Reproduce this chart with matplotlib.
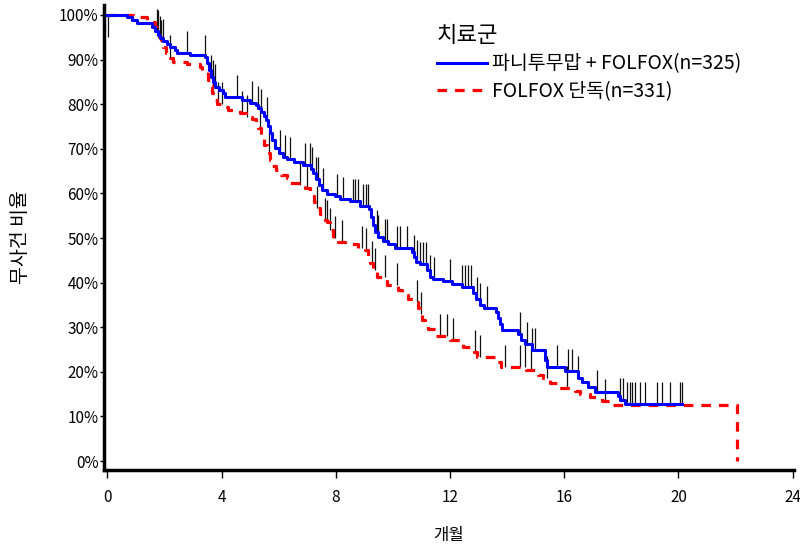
import matplotlib
matplotlib.use('Agg')
import matplotlib.pyplot as plt
import numpy as np

plt.rcParams['font.family'] = ['Noto Sans CJK KR', 'DejaVu Sans']

# Kaplan-Meier steps (months, % event free)
pani_t = [0, 0.68, 0.86, 1.03, 1.56, 1.66, 1.77, 1.84, 1.94, 2.08, 2.19, 2.36, 2.43, 2.89, 3.42, 3.49,
          3.56, 3.63, 3.70, 3.77, 3.91, 4.05, 4.12, 4.71, 4.99, 5.20, 5.27, 5.38, 5.48, 5.55, 5.62, 5.69,
          5.76, 5.87, 6.01, 6.15, 6.29, 6.53, 6.85, 7.13, 7.20, 7.30, 7.41, 7.51, 7.69, 7.97, 8.14, 8.49,
          8.84, 9.16, 9.23, 9.30, 9.37, 9.47, 9.65, 9.83, 10.07, 10.67, 10.73, 10.80, 10.95, 11.19, 11.30,
          11.40, 11.75, 12.07, 12.42, 12.80, 12.91, 13.05, 13.19, 13.61, 13.68, 13.75, 13.82, 14.38, 14.48,
          14.62, 14.87, 15.32, 15.39, 16.02, 16.48, 16.62, 16.83, 17.08, 17.88, 17.95, 18.13, 20.12]
pani_s = [100, 99.6, 98.9, 98.2, 97.3, 96.4, 95.5, 94.8, 94.2, 93.5, 92.8, 92.2, 91.5, 91.0, 90.6, 89.2,
          87.7, 86.1, 85.0, 83.9, 83.2, 82.5, 81.6, 80.9, 80.3, 79.8, 79.1, 78.3, 77.4, 76.5, 75.1, 73.5,
          72.0, 70.2, 69.1, 68.2, 67.7, 67.0, 66.4, 65.5, 64.6, 63.2, 61.9, 60.8, 59.9, 59.4, 58.7, 58.3,
          57.2, 56.5, 54.7, 52.9, 51.3, 50.2, 49.3, 48.7, 47.8, 46.9, 45.7, 44.6, 44.2, 42.8, 41.3,
          40.8, 40.4, 39.7, 39.0, 37.7, 36.3, 35.0, 34.3, 33.4, 32.1, 30.7, 29.4, 28.5, 27.1,
          26.2, 24.9, 22.6, 21.1, 20.2, 18.6, 17.7, 16.6, 15.5, 14.6, 13.7, 12.8, 12.8]

folfox_t = [0, 0.89, 1.14, 1.38, 1.56, 1.66, 1.73, 1.80, 1.87, 1.94, 2.05, 2.19, 2.29, 2.78, 3.24, 3.31,
            3.52, 3.59, 3.66, 3.77, 3.84, 4.12, 4.22, 4.64, 4.85, 5.06, 5.20, 5.27, 5.38, 5.48, 5.59, 5.69,
            5.76, 5.90, 6.08, 6.29, 6.39, 6.74, 6.92, 7.09, 7.16, 7.23, 7.34, 7.44, 7.55, 7.69, 7.79, 7.90,
            8.07, 8.32, 8.77, 9.02, 9.12, 9.19, 9.30, 9.44, 9.79, 10.18, 10.32, 10.53, 10.77, 10.88, 10.95,
            11.02, 11.12, 11.23, 11.51, 12.00, 12.46, 12.84, 12.95, 13.64, 13.78, 14.66, 15.08, 15.25, 15.50,
            15.81, 16.37, 16.55, 16.90, 17.32, 17.67, 22.05, 22.05]
folfox_s = [100, 99.8, 99.6, 98.9, 98.4, 97.3, 96.2, 95.1, 93.9, 92.8, 91.5, 90.4, 89.5, 89.0, 88.3, 87.4,
            85.4, 84.1, 82.5, 80.9, 80.0, 79.4, 78.7, 78.0, 77.1, 76.7, 76.0, 74.7, 72.9, 70.9, 69.1, 67.5,
            66.1, 65.2, 64.1, 63.5, 62.3, 61.9, 61.2, 60.3, 59.4, 58.1, 56.7, 55.4, 54.0, 53.6, 51.8, 50.0,
            49.1, 48.7, 47.8, 47.3, 45.7, 44.4, 42.8, 41.3, 39.5, 38.3, 37.2, 36.3, 35.7, 34.3, 33.0,
            31.6, 30.3, 29.6, 28.0, 27.1, 25.6, 24.4, 23.3, 22.2, 21.1, 20.4, 19.3, 18.6, 17.5,
            16.4, 15.7, 15.0, 14.3, 13.5, 12.6, 12.6, 0]

# censored observations (months)
pani_cens = [1.73, 1.84, 1.94, 2.78, 3.42, 3.63, 3.70, 3.77, 4.54, 5.06, 5.27, 5.38, 5.59, 6.04, 6.22,
             6.39, 6.92, 7.09, 7.16, 7.30, 7.37, 7.55, 8.04, 8.25, 8.60, 8.67, 8.77, 8.95, 9.05, 9.12,
             9.44, 9.48, 9.72, 9.79, 10.14, 10.25, 10.49, 10.74, 10.84, 10.95, 11.05, 11.16, 11.30, 11.44,
             12.00, 12.42, 12.52, 12.63, 12.73, 12.94, 13.05, 13.29, 14.45, 14.69, 14.87, 14.97, 15.74,
             16.13, 16.27, 16.48, 17.15, 17.95, 18.06, 18.20, 18.30, 18.37, 18.48, 18.65, 18.83, 19.25,
             19.42, 19.70, 20.05, 20.12]
folfox_cens = [1.77, 1.87, 2.19, 3.70, 3.87, 4.01, 4.71, 4.89, 5.34, 5.66, 6.74, 6.99, 7.34, 7.62, 7.69,
               7.79, 7.97, 8.21, 8.91, 9.05, 9.26, 9.37, 9.72, 10.14, 10.84, 10.98, 11.65, 11.89, 12.10,
               12.87, 13.05, 13.92, 14.45, 14.62, 14.83, 15.39, 16.09, 17.43]

labels = ['파니투무맙 + FOLFOX(n=325)', 'FOLFOX 단독(n=331)']
xticks = [0, 4, 8, 12, 16, 20, 24]
yticks = list(range(0, 101, 10))


def surv_at(t_steps, s_steps, t):
    idx = np.searchsorted(t_steps, t, side='right') - 1
    return np.array(s_steps)[idx]


fig = plt.figure(figsize=(8, 5.45), dpi=100)
ax = fig.add_axes([0.13, 0.1376, 0.8625, 0.8538])

# censor marks
for ts, ss, cens in [(pani_t, pani_s, pani_cens), (folfox_t, folfox_s, folfox_cens)]:
    base = surv_at(ts, ss, cens)
    ax.vlines(cens, base, base + 5, color='#111111', lw=0.9, zorder=2)
ax.vlines([0.03], [95], [100], color='#111111', lw=0.9, zorder=2)

ax.step(folfox_t, folfox_s, where='post', color='#ff0000', lw=2.3,
        dashes=(3.0, 2.5), label=labels[1], zorder=3)
ax.step(pani_t, pani_s, where='post', color='#0000ff', lw=2.2, label=labels[0], zorder=4)

ax.set_xlim(-0.12, 24.05)
ax.set_ylim(-2, 102.3)
ax.set_xticks(xticks)
ax.set_yticks(yticks)
ax.set_yticklabels([f'{v}%' for v in yticks])
ax.tick_params(axis='y', length=3, width=1, pad=1, labelsize=11)
ax.tick_params(axis='x', length=6, width=1, pad=8, labelsize=11)

for side in ['top', 'right']:
    ax.spines[side].set_visible(False)
for side in ['left', 'bottom']:
    ax.spines[side].set_linewidth(2.5)

ax.set_ylabel('무사건 비율', fontsize=14, labelpad=20)
ax.set_xlabel('개월', fontsize=12, labelpad=15)

handles, labs = ax.get_legend_handles_labels()
leg = ax.legend(handles[::-1], labs[::-1], loc='upper left', bbox_to_anchor=(0.524, 0.988),
                bbox_transform=fig.transFigure, frameon=False, title='치료군', fontsize=14,
                title_fontsize=16, alignment='left', handlelength=2.6, handletextpad=0.25,
                labelspacing=0.33)

fig.savefig('out.png', dpi=100)
